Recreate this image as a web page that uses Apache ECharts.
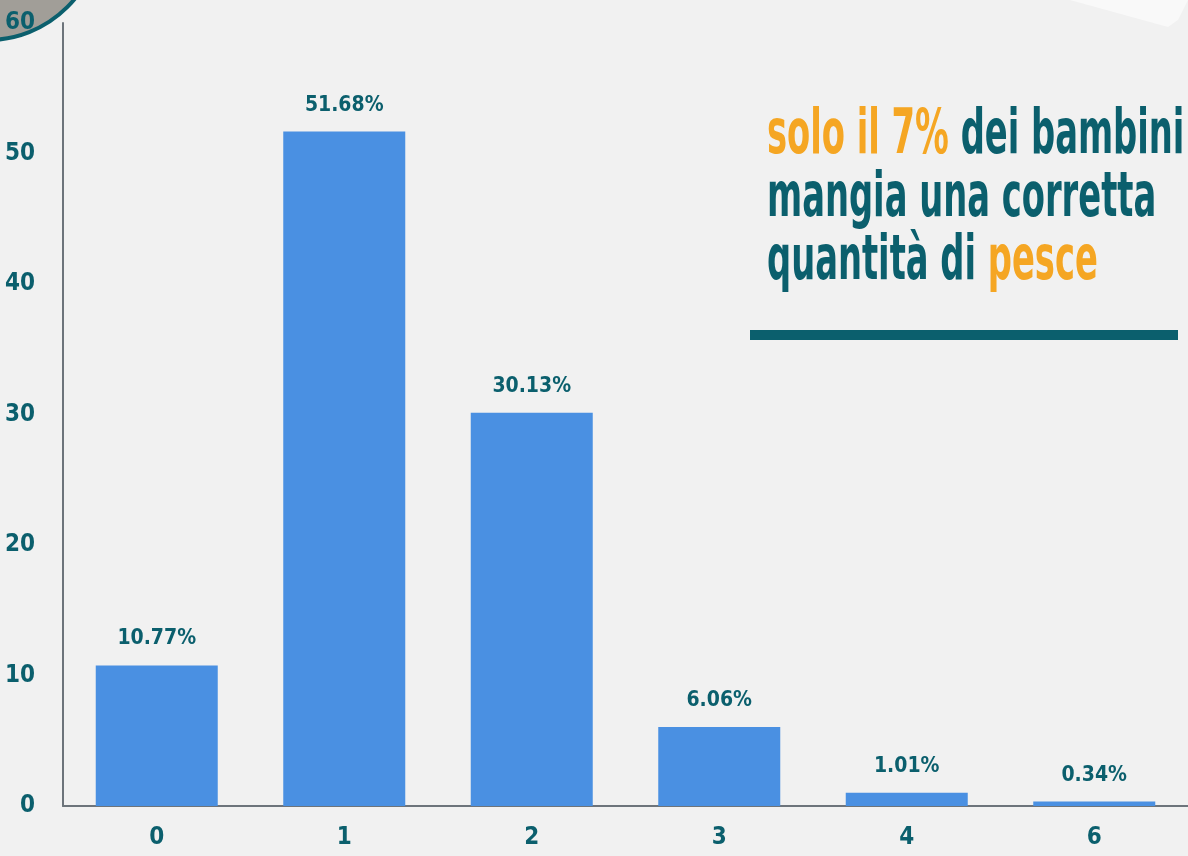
<!DOCTYPE html>
<html>
<head>
<meta charset="utf-8">
<script src="https://cdn.jsdelivr.net/npm/echarts@6/dist/echarts.min.js"></script>
<style>
  html, body { margin: 0; padding: 0; background: #f1f1f1; }
  #chart { width: 1188px; height: 856px; }
</style>
</head>
<body>
<div id="chart"></div>
<script>
'use strict';
var categories = ['0', '1', '2', '3', '4', '6'],
		values = [10.77, 51.68, 30.13, 6.06, 1.01, 0.34],
		yTicks = [0, 10, 20, 30, 40, 50, 60];

var teal = '#0b5f6d',
		orange = '#f5a623',
		barBlue = '#4a90e2',
		font = '"DejaVu Sans Condensed", "Liberation Sans Narrow", sans-serif';

var chart = echarts.init(document.getElementById('chart'));

// one line of the side note, squeezed horizontally to look like a tall condensed face
function noteLine(y, parts) {
	return {
		type: 'text',
		x: 767,
		y: y,
		scaleX: 0.605,
		z: 5,
		style: {
			x: 0,
			y: 0,
			verticalAlign: 'middle',
			text: parts.map(function (p) { return '{' + p[0] + '|' + p[1] + '}'; }).join(''),
			rich: {
				o: { fill: orange, fontSize: 62, fontWeight: 'bold', fontFamily: font },
				t: { fill: teal, fontSize: 62, fontWeight: 'bold', fontFamily: font }
			}
		}
	};
}

var option = {
	backgroundColor: '#f1f1f1',
	animation: false,
	grid: {
		left: 63,
		right: -9,
		top: 23,
		bottom: 50
	},
	xAxis: {
		type: 'category',
		data: categories,
		axisLine: { lineStyle: { color: '#6d747b', width: 2 } },
		axisTick: { show: false },
		axisLabel: {
			margin: 20,
			color: teal,
			fontSize: 24,
			fontWeight: 'bold',
			fontFamily: font
		}
	},
	yAxis: {
		type: 'value',
		min: yTicks[0],
		max: yTicks[yTicks.length - 1],
		interval: 10,
		axisLine: { show: true, lineStyle: { color: '#6d747b', width: 2 } },
		axisTick: { show: false },
		splitLine: { show: false },
		axisLabel: {
			margin: 28,
			color: teal,
			fontSize: 24,
			fontWeight: 'bold',
			fontFamily: font
		}
	},
	series: [
		{
			type: 'bar',
			data: values,
			barWidth: 122,
			itemStyle: { color: barBlue },
			label: {
				show: true,
				position: 'top',
				distance: 16,
				color: teal,
				fontSize: 21,
				fontWeight: 'bold',
				fontFamily: font,
				formatter: function (p) {
					return p.value.toFixed(2) + '%';
				}
			}
		}
	],
	graphic: [
		// decorative badge in the corner
		{
			type: 'circle',
			shape: { cx: -12, cy: -72, r: 112 },
			z: 0,
			style: { fill: '#a19e98', stroke: teal, lineWidth: 4 }
		},
		// paper sheet peeking in at the top right
		{
			type: 'polygon',
			shape: { points: [[1070, 0], [1168, 27], [1178, 20], [1188, 0]] },
			z: 0,
			style: { fill: '#f9f9f9' }
		},
		noteLine(137, [['o', 'solo il 7% '], ['t', 'dei bambini']]),
		noteLine(200, [['t', 'mangia una corretta']]),
		noteLine(263, [['t', 'quantità di '], ['o', 'pesce']]),
		{
			type: 'rect',
			shape: { x: 750, y: 330, width: 428, height: 10 },
			z: 5,
			style: { fill: teal }
		}
	]
};

chart.setOption(option);
</script>
</body>
</html>
